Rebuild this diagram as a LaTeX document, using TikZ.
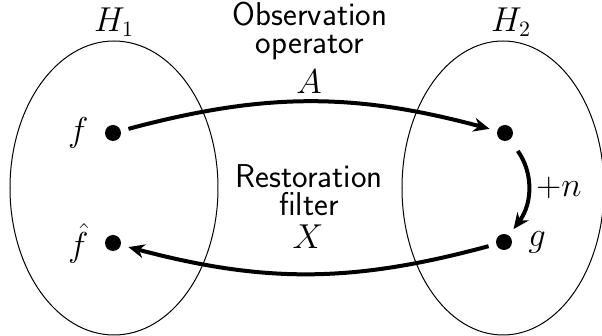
\documentclass[tikz,border=0pt]{standalone}
\usetikzlibrary{arrows.meta}
\begin{document}
\begin{tikzpicture}[x=0.5pt,y=-0.5pt,every node/.style={font=\fontsize{16}{18}\selectfont},
  dot/.style={circle,fill,inner sep=0pt,minimum size=8pt,outer sep=4pt},
  words/.style={align=center,font=\sffamily\fontsize{16.5}{14}\selectfont},
  arr/.style={line width=2pt,-{Stealth[length=8pt,width=7pt]}}]
   \useasboundingbox (0,0) rectangle (602,336);
   \draw [line width=0.5pt] (114,188) ellipse (104 and 147);
   \draw [line width=0.5pt] (503,188) ellipse (101 and 147);
   \node (h1) at (114,22) {$H_1$};
   \node (h2) at (511,22) {$H_2$};
   \node [dot,label={[inner sep=0pt,label distance=4pt]left:$f$}] (f) at (113,133) {};
   \node [dot,label={[inner sep=0pt,label distance=4pt]left:$\hat{f}$}] (fh) at (113,243) {};
   \node [dot] (Af) at (505,133) {};
   \node [dot,label={[inner sep=0pt,label distance=4pt]right:$g$}] (g) at (504,242) {};
   \draw [arr] (f) to [bend left=15] (Af);
   \draw [arr] (g) to [bend left=15] (fh);
   \draw [arr,shorten <=3pt] (Af) to [bend left=36] (g);
   \node [words] (obs) at (310,31) {Observation\\operator};
   \node (a) at (309,82) {$A$};
   \node [words] (res) at (309,190) {Restoration\\filter};
   \node (x) at (308,237) {$X$};
   \node (n) at (559,188) {$+n$};
  \end{tikzpicture}
\end{document}
